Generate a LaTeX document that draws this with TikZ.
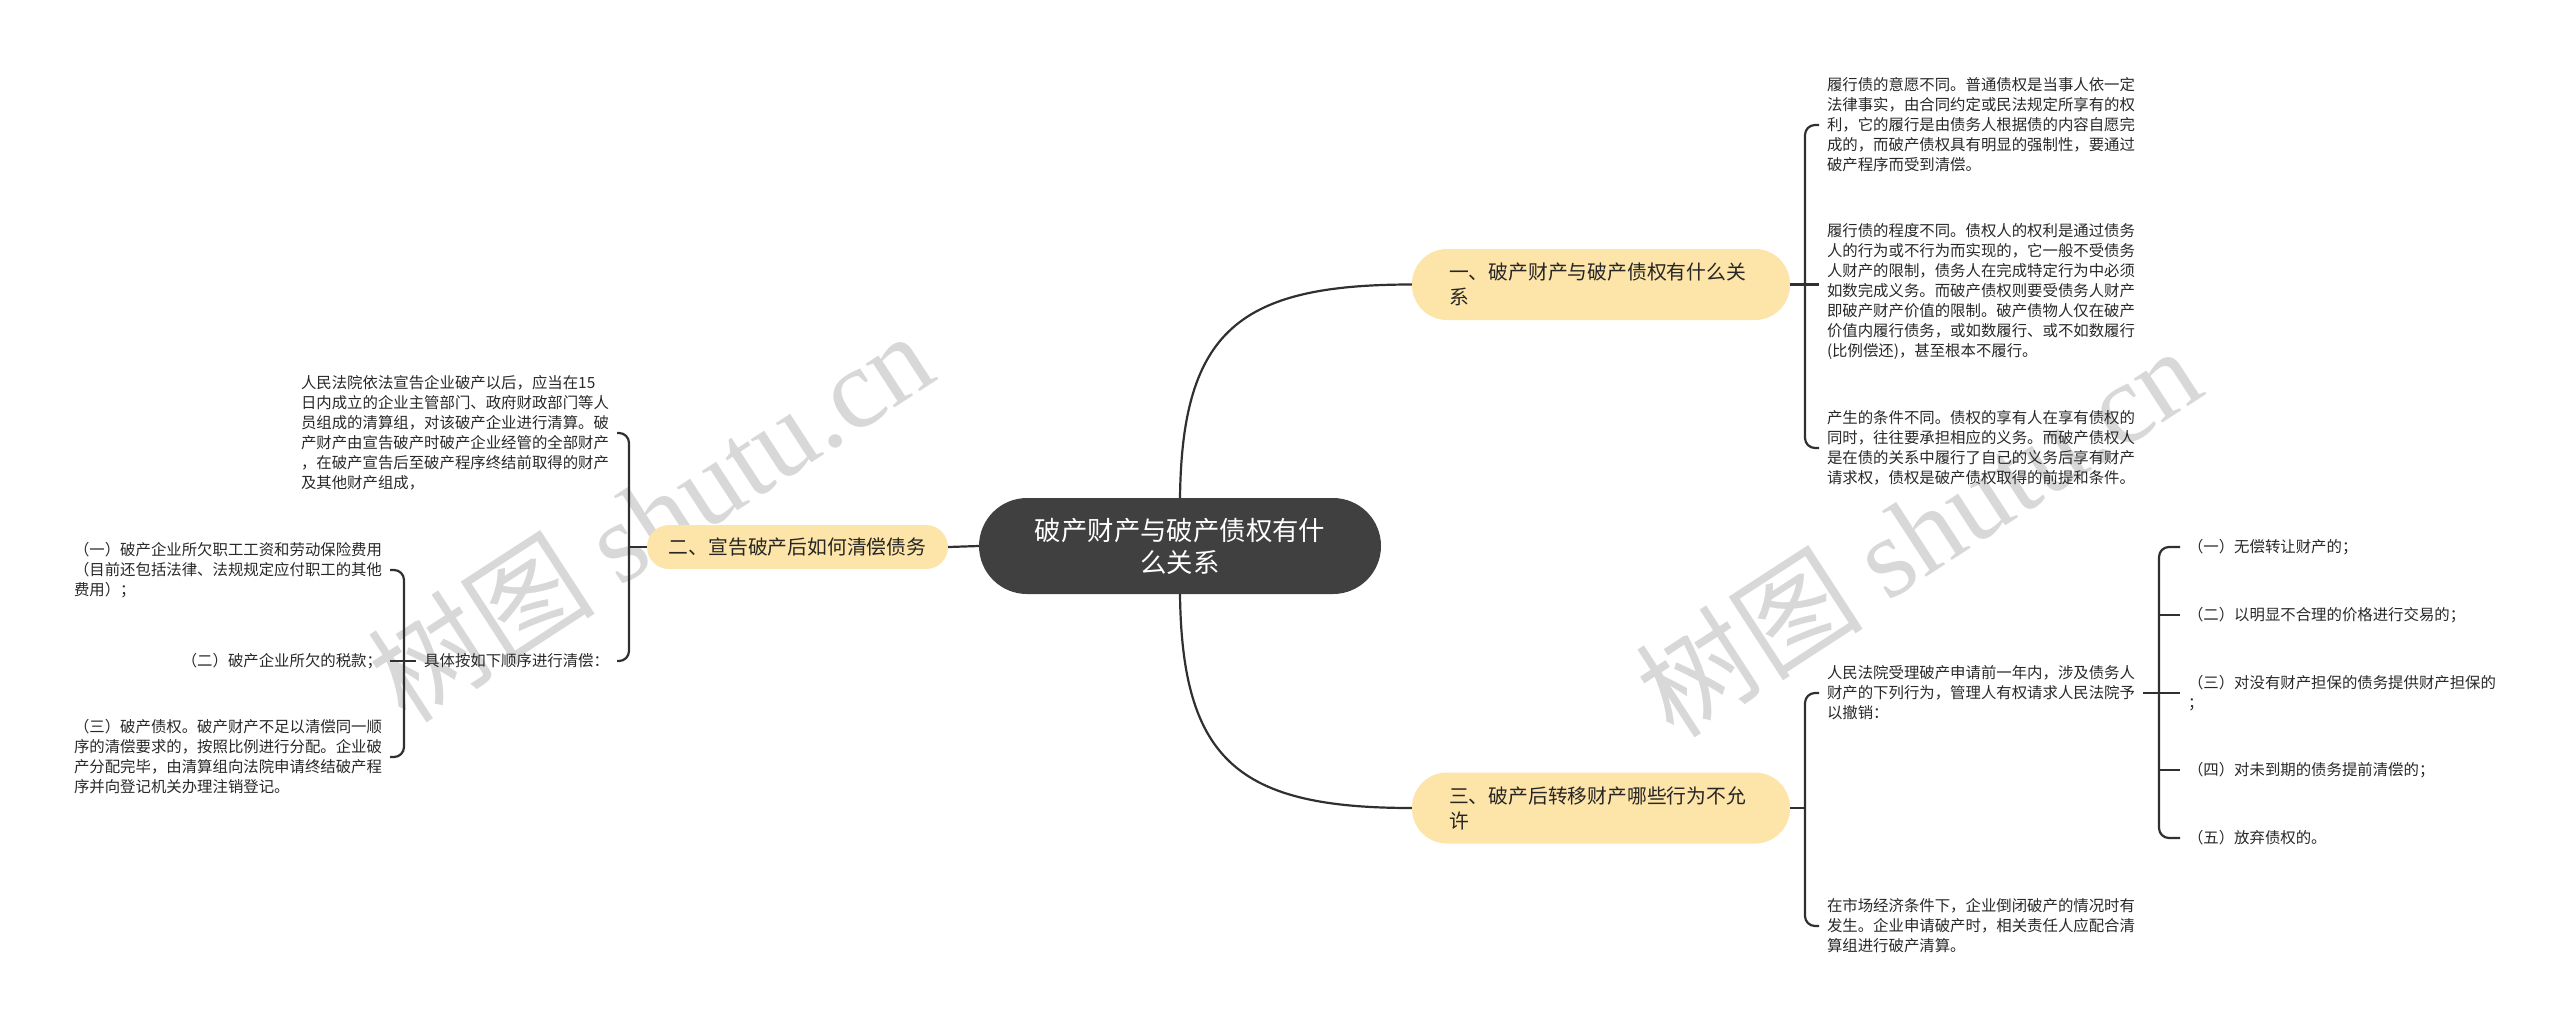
\documentclass[tikz,border=0pt]{standalone}
\usepackage{fontspec}
\setmainfont{Noto Sans CJK SC}
\newfontfamily\wmserif{Liberation Serif}
\newfontfamily\wmcjk{Noto Sans CJK SC}
\definecolor{rootgray}{RGB}{64,64,64}
\definecolor{branchfill}{RGB}{253,228,168}
\definecolor{linkgray}{RGB}{48,48,48}
\definecolor{wmgray}{RGB}{216,216,216}
\definecolor{leaftext}{RGB}{40,40,40}
\begin{document}
\begin{tikzpicture}[x=1pt,y=-1pt,
  link/.style={draw=linkgray,line width=2.2pt},
  root/.style={fill=rootgray,text=white,rounded corners=48pt,minimum width=402pt,
    minimum height=96pt,align=center,font=\fontsize{26.4}{32}\selectfont},
  branch/.style={fill=branchfill,text=black!85,align=left,
    font=\fontsize{19.8}{25}\selectfont},
  leaf/.style={text=leaftext,align=left,inner sep=0pt,outer xsep=8pt,
    font=\fontsize{15.4}{20}\selectfont},
  wm/.style={text=wmgray,rotate=33,inner sep=0pt,font=\fontsize{114}{114}\selectfont}]
\useasboundingbox (0,0) rectangle (2560,1029);

% Watermarks
\node[wm] (wm1) at (650,516) {{\wmcjk 树图} {\wmserif shutu.cn}};
\node[wm] (wm2) at (1918,531) {{\wmcjk 树图} {\wmserif shutu.cn}};

% Root and branches
\node[root] (root) at (1180,546) {破产财产与破产债权有什\\么关系};
\node[branch,text width=304pt,inner xsep=37pt,minimum height=71pt,rounded corners=35pt]
  (b1) at (1601,284.5) {一、破产财产与破产债权有什么关\\系};
\node[branch,minimum width=301pt,minimum height=44pt,rounded corners=22pt]
  (b2) at (797.5,547) {二、宣告破产后如何清偿债务};
\node[branch,text width=304pt,inner xsep=37pt,minimum height=71pt,rounded corners=35pt]
  (b3) at (1601,808) {三、破产后转移财产哪些行为不允\\许};

\draw[link] (root.north) .. controls (1182,330) and (1240,284.5) .. (b1.west);
\draw[link] (root.south) .. controls (1182,762) and (1240,808) .. (b3.west);
\draw[link] (root.west) -- (b2.east);

% Branch one
\node[leaf,anchor=west] (l1a) at (1819,125) {履行债的意愿不同。普通债权是当事人依一定\\法律事实，由合同约定或民法规定所享有的权\\利，它的履行是由债务人根据债的内容自愿完\\成的，而破产债权具有明显的强制性，要通过\\破产程序而受到清偿。};
\node[leaf,anchor=west] (l1b) at (1819,291) {履行债的程度不同。债权人的权利是通过债务\\人的行为或不行为而实现的，它一般不受债务\\人财产的限制，债务人在完成特定行为中必须\\如数完成义务。而破产债权则要受债务人财产\\即破产财产价值的限制。破产债物人仅在破产\\价值内履行债务，或如数履行、或不如数履行\\(比例偿还)，甚至根本不履行。};
\node[leaf,anchor=west] (l1c) at (1819,448) {产生的条件不同。债权的享有人在享有债权的\\同时，往往要承担相应的义务。而破产债权人\\是在债的关系中履行了自己的义务后享有财产\\请求权，债权是破产债权取得的前提和条件。};
\coordinate (s1) at (1805,285);
\draw[link] (b1.east) -- (b1.east -| l1b.west);
\draw[link,rounded corners=10pt] (l1a.west) -| (s1) |- (l1c.west);

% Branch three
\node[leaf,anchor=west] (l3a) at (1819,693) {人民法院受理破产申请前一年内，涉及债务人\\财产的下列行为，管理人有权请求人民法院予\\以撤销：};
\node[leaf,anchor=west] (l3b) at (1819,926) {在市场经济条件下，企业倒闭破产的情况时有\\发生。企业申请破产时，相关责任人应配合清\\算组进行破产清算。};
\coordinate (s3) at (1805,808);
\draw[link] (b3.east) -- (s3);
\draw[link,rounded corners=10pt] (l3a.west) -| (s3) |- (l3b.west);

\node[leaf,anchor=west] (c1) at (2180,547) {（一）无偿转让财产的；};
\node[leaf,anchor=west] (c2) at (2180,615) {（二）以明显不合理的价格进行交易的；};
\node[leaf,anchor=west] (c3) at (2180,693) {（三）对没有财产担保的债务提供财产担保的\\；};
\node[leaf,anchor=west] (c4) at (2180,770) {（四）对未到期的债务提前清偿的；};
\node[leaf,anchor=west] (c5) at (2180,838) {（五）放弃债权的。};
\coordinate (s5) at (2159,693);
\draw[link] (l3a.east) -- (l3a.east -| c3.west);
\draw[link,rounded corners=10pt] (c1.west) -| (s5) |- (c5.west);
\draw[link] (c2.west) -- (c2.west -| s5);
\draw[link] (c4.west) -- (c4.west -| s5);

% Branch two
\node[leaf,anchor=east] (lt1) at (617,433) {人民法院依法宣告企业破产以后，应当在15\\日内成立的企业主管部门、政府财政部门等人\\员组成的清算组，对该破产企业进行清算。破\\产财产由宣告破产时破产企业经管的全部财产\\，在破产宣告后至破产程序终结前取得的财产\\及其他财产组成，};
\node[leaf,anchor=east] (lt2) at (617,661) {具体按如下顺序进行清偿：};
\coordinate (s2) at (629,547);
\draw[link] (b2.west) -- (s2);
\draw[link,rounded corners=10pt] (lt1.east) -| (s2) |- (lt2.east);

\node[leaf,anchor=east] (d1) at (390,570) {（一）破产企业所欠职工工资和劳动保险费用\\（目前还包括法律、法规规定应付职工的其他\\费用）；};
\node[leaf,anchor=east] (d2) at (390,661) {（二）破产企业所欠的税款；};
\node[leaf,anchor=east] (d3) at (390,757) {（三）破产债权。破产财产不足以清偿同一顺\\序的清偿要求的，按照比例进行分配。企业破\\产分配完毕，由清算组向法院申请终结破产程\\序并向登记机关办理注销登记。};
\coordinate (s4) at (404,661);
\draw[link] (lt2.west) -- (lt2.west -| d2.east);
\draw[link,rounded corners=10pt] (d1.east) -| (s4) |- (d3.east);

\end{tikzpicture}
\end{document}
